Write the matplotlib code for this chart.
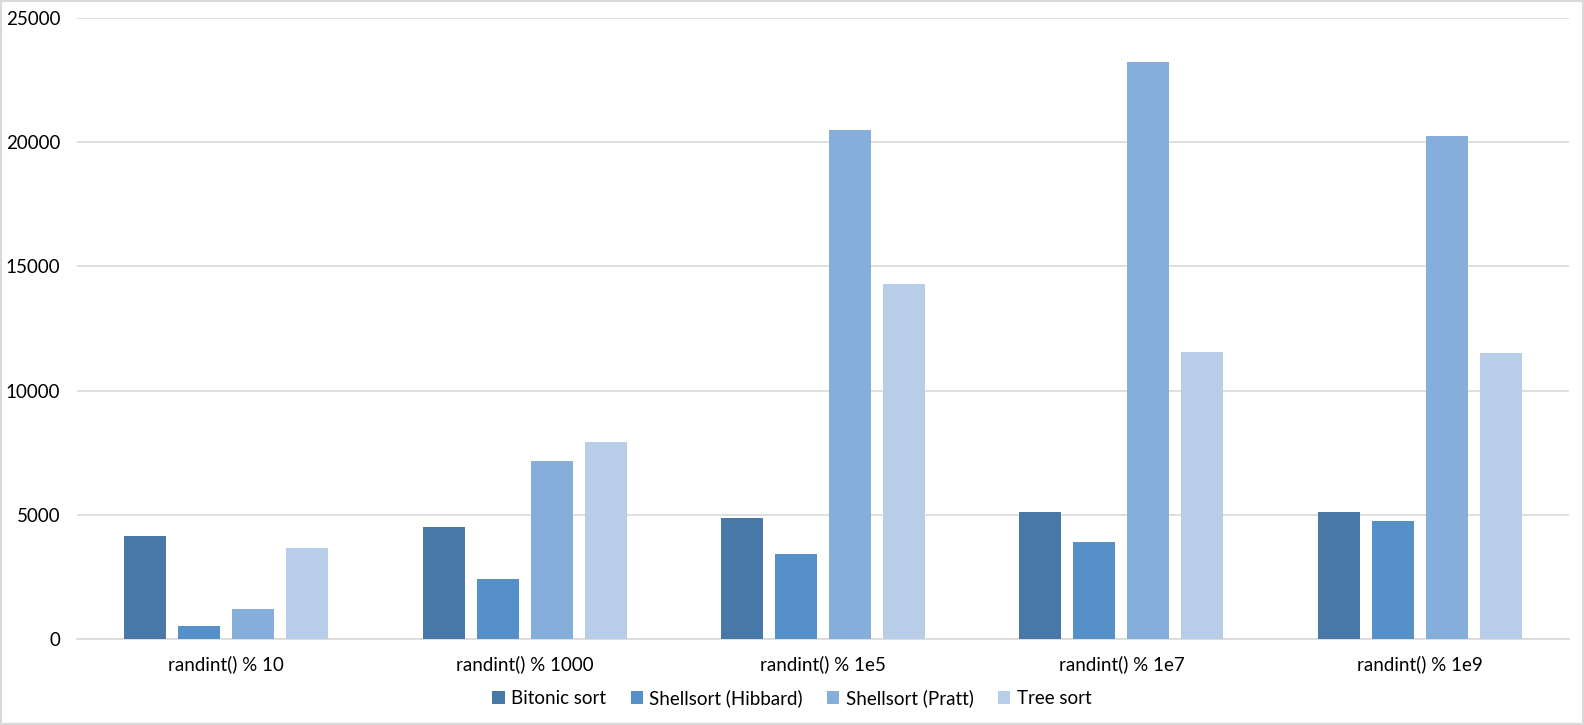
import matplotlib.pyplot as plt
import numpy as np

# --- DATA ---
categories = ["randint() % 10", "randint() % 1000", "randint() % 1e5",
              "randint() % 1e7", "randint() % 1e9"]
series_names = ["Bitonic sort", "Shellsort (Hibbard)", "Shellsort (Pratt)", "Tree sort"]
bitonic = [4150, 4510, 4870, 5110, 5110]
hibbard = [520, 2420, 3430, 3910, 4760]
pratt = [1210, 7170, 20490, 23240, 20250]
tree = [3660, 7930, 14290, 11570, 11520]
yticks = [0, 5000, 10000, 15000, 20000, 25000]

colors = ["#4878A8", "#5590C8", "#86AEDB", "#B8CDE7"]

plt.rcParams['font.family'] = ['Lato', 'DejaVu Sans']

fig = plt.figure(figsize=(15.84, 7.25), dpi=100)
# axes box in pixels: left 77, right 1569, zero line y=639, top (25000) y=18
W, H = 1584, 725
ax = fig.add_axes([77 / W, 1 - 639 / H, (1569 - 77) / W, (639 - 18) / H])

x = np.arange(len(categories))
width = 0.1408
pitch = 0.181
all_series = [bitonic, hibbard, pratt, tree]
for i, (vals, name) in enumerate(zip(all_series, series_names)):
    offset = (i - 1.5) * pitch
    ax.bar(x + offset, vals, width, color=colors[i], label=name, zorder=3)

ax.set_xlim(-0.5, len(categories) - 0.5)
ax.set_ylim(0, 25000)
ax.set_yticks(yticks)
ax.set_yticklabels([str(t) for t in yticks])
ax.set_xticks(x)
ax.set_xticklabels(categories)
ax.grid(axis='y', color='#D9D9D9', linewidth=1.2, zorder=0)
for s in ['top', 'right', 'left']:
    ax.spines[s].set_visible(False)
ax.spines['bottom'].set_color('#D9D9D9')
ax.spines['bottom'].set_linewidth(1.2)
ax.tick_params(axis='both', length=0, labelsize=13.5, colors='#000000')
ax.tick_params(axis='y', pad=12)
ax.tick_params(axis='x', pad=12)

leg = fig.legend(loc='center', bbox_to_anchor=(0.5, 1 - 698 / H), ncol=4,
                 frameon=False, fontsize=13.5, handlelength=0.65, handleheight=0.65,
                 handletextpad=0.35, columnspacing=1.3)

# thin grey frame around the whole chart
fig.patches.append(plt.Rectangle((0.0005, 0.002), 0.999, 0.996, transform=fig.transFigure,
                                 fill=False, edgecolor='#D9D9D9', linewidth=1.5))

fig.savefig("out.png", dpi=100)
